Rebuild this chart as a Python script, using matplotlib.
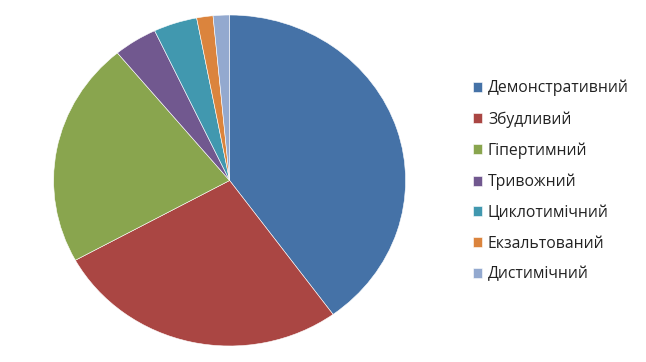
import matplotlib
matplotlib.use("Agg")
import matplotlib.pyplot as plt

categories = ["Демонстративний", "Збудливий", "Гіпертимний", "Тривожний",
              "Циклотимічний", "Екзальтований", "Дистимічний"]
values = [40, 27, 22, 4, 4, 1.5, 1.5]
colors = ["#4572A7", "#AA4643", "#89A54E", "#71588F", "#4198AF", "#DB843D", "#93A9CF"]

plt.rcParams['font.family'] = ['Open Sans', 'DejaVu Sans']

W, H = 646, 362
fig = plt.figure(figsize=(W / 100, H / 100), dpi=100)
cx, cy, rx, ry = 229.6, 180.5, 176, 165.5
ax = fig.add_axes([(cx - rx) / W, (H - cy - ry) / H, 2 * rx / W, 2 * ry / H])
wedges, _ = ax.pie(values, colors=colors, startangle=90, counterclock=False,
                   wedgeprops=dict(edgecolor="white", linewidth=0.4))
ax.set_aspect("auto")
ax.set_xlim(-1, 1)
ax.set_ylim(-1, 1)

leg = fig.legend(wedges, categories, loc="upper left",
                 bbox_to_anchor=(473 / W, 1 - 80 / H), frameon=False,
                 fontsize=11.3, handlelength=0.6, handleheight=0.6,
                 handletextpad=0.35, labelspacing=0.94, borderaxespad=0,
                 borderpad=0)
for t in leg.get_texts():
    t.set_color("#222222")

fig.savefig("out.png", dpi=100)
